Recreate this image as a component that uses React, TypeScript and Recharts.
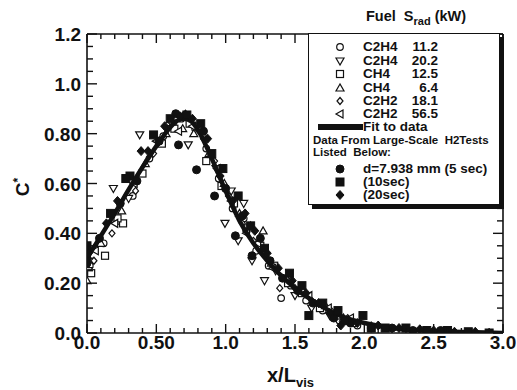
import { ScatterChart, Scatter, XAxis, YAxis } from "recharts";

// fit curve
const fitX = [0, 0.1, 0.2, 0.3, 0.4, 0.5, 0.6, 0.65, 0.7, 0.75, 0.8, 0.9, 1.0, 1.1, 1.2, 1.3, 1.4, 1.5, 1.6, 1.7, 1.8, 1.9, 2.0, 2.2, 2.5, 2.8, 3.0];
const fitY = [0.3, 0.39, 0.48, 0.575, 0.665, 0.75, 0.825, 0.852, 0.86, 0.85, 0.815, 0.7, 0.57, 0.45, 0.36, 0.29, 0.23, 0.18, 0.14, 0.105, 0.075, 0.055, 0.04, 0.02, 0.008, 0.003, 0.0];

// open symbols (fuel / Srad)
const c2h4a = [[0.02, 0.27], [0.12, 0.36], [0.22, 0.45], [0.33, 0.55], [0.45, 0.7], [0.55, 0.79], [0.62, 0.84], [0.68, 0.86], [0.78, 0.82], [0.86, 0.74], [0.95, 0.62], [1.05, 0.5], [1.13, 0.46], [1.22, 0.33], [1.31, 0.27], [1.4, 0.14], [1.47, 0.19], [1.58, 0.13], [1.7, 0.09], [1.82, 0.05], [1.95, 0.03]];
const c2h4b = [[0.01, 0.25], [0.19, 0.58], [0.38, 0.795], [0.3, 0.54], [0.58, 0.82], [0.73, 0.755], [0.8, 0.83], [0.93, 0.66], [0.995, 0.44], [1.04, 0.57], [1.13, 0.52], [1.09, 0.37], [1.19, 0.29], [1.28, 0.21], [1.36, 0.25], [1.5, 0.15], [1.62, 0.1], [1.75, 0.07]];
const ch4a = [[0.03, 0.24], [0.13, 0.31], [0.26, 0.44], [0.22, 0.46], [0.4, 0.64], [0.54, 0.76], [0.63, 0.82], [0.74, 0.84], [0.86, 0.69], [0.97, 0.59], [1.06, 0.52], [1.15, 0.42], [1.25, 0.35], [1.35, 0.27], [1.45, 0.2], [1.55, 0.16], [1.68, 0.1], [1.8, 0.07], [1.92, 0.04]];
const ch4b = [[0.0, 0.21], [0.1, 0.36], [0.25, 0.49], [0.42, 0.68], [0.57, 0.8], [0.69, 0.82], [0.77, 0.8], [0.88, 0.72], [0.99, 0.6], [1.1, 0.48], [1.18, 0.43], [1.27, 0.41], [1.33, 0.28], [1.44, 0.22], [1.56, 0.17], [1.72, 0.11], [1.85, 0.06]];
const c2h2a = [[0.05, 0.29], [0.18, 0.4], [0.35, 0.57], [0.48, 0.72], [0.6, 0.85], [0.71, 0.88], [0.84, 0.78], [0.92, 0.69], [1.02, 0.55], [1.12, 0.44], [1.2, 0.37], [1.3, 0.3], [1.39, 0.18], [1.5, 0.18], [1.62, 0.13], [1.76, 0.09], [1.88, 0.06], [2.05, 0.03]];
const c2h2b = [[0.06, 0.33], [0.2, 0.44], [0.34, 0.6], [0.5, 0.77], [0.66, 0.81], [0.76, 0.83], [0.83, 0.8], [0.94, 0.66], [1.04, 0.53], [1.15, 0.4], [1.23, 0.36], [1.34, 0.26], [1.46, 0.21], [1.6, 0.15], [1.74, 0.1], [1.9, 0.06]];

// filled symbols (large-scale H2 tests)
const h2s5 = [[0.0, 0.3], [0.0, 0.28], [0.09, 0.38], [0.24, 0.52], [0.36, 0.61], [0.52, 0.77], [0.66, 0.755], [0.64, 0.88], [0.7, 0.87], [0.79, 0.655], [0.84, 0.81], [0.92, 0.55], [1.0, 0.58], [1.07, 0.39], [1.12, 0.47], [1.19, 0.31], [1.25, 0.38], [1.32, 0.29], [1.41, 0.22], [1.52, 0.17], [1.63, 0.12], [1.78, 0.06], [1.9, 0.04], [2.05, 0.02], [2.2, 0.02], [2.35, 0.01], [2.55, 0.01]];
const h2s10 = [[0.0, 0.35], [0.0, 0.33], [0.17, 0.48], [0.31, 0.63], [0.28, 0.62], [0.48, 0.795], [0.6, 0.86], [0.72, 0.875], [0.82, 0.84], [0.9, 0.72], [0.98, 0.66], [1.09, 0.55], [1.18, 0.43], [1.28, 0.34], [1.46, 0.24], [1.55, 0.19], [1.6, 0.07], [1.7, 0.12], [1.81, 0.09], [1.86, 0.05], [1.99, 0.07], [2.05, 0.02], [2.15, 0.02], [2.3, 0.02], [2.45, 0.01], [2.6, 0.01], [2.75, 0.005], [2.9, 0.0]];
const h2s20 = [[0.01, 0.32], [0.14, 0.44], [0.22, 0.53], [0.39, 0.73], [0.44, 0.73], [0.56, 0.83], [0.67, 0.87], [0.76, 0.86], [0.87, 0.78], [0.96, 0.63], [1.05, 0.53], [1.14, 0.48], [1.21, 0.41], [1.3, 0.32], [1.38, 0.26], [1.48, 0.21], [1.58, 0.16], [1.67, 0.12], [1.75, 0.08], [1.83, 0.03], [1.95, 0.04], [2.1, 0.03], [2.25, 0.02], [2.4, 0.015], [2.5, 0.01], [2.65, 0.005], [2.8, 0.005]];

const xTicks = [0, 0.1, 0.2, 0.3, 0.4, 0.5, 0.6, 0.7, 0.8, 0.9, 1, 1.1, 1.2, 1.3, 1.4, 1.5, 1.6, 1.7, 1.8, 1.9, 2, 2.1, 2.2, 2.3, 2.4, 2.5, 2.6, 2.7, 2.8, 2.9, 3];
const xMajor = [0, 0.5, 1, 1.5, 2, 2.5, 3];
const xLabels = ["0.0", "0.50", "1.0", "1.5", "2.0", "2.5", "3.0"];
const yTicks = [0, 0.05, 0.1, 0.15, 0.2, 0.25, 0.3, 0.35, 0.4, 0.45, 0.5, 0.55, 0.6, 0.65, 0.7, 0.75, 0.8, 0.85, 0.9, 0.95, 1, 1.05, 1.1, 1.15, 1.2];
const yMajor = [0, 0.2, 0.4, 0.6, 0.8, 1, 1.2];
const yLabels = ["0.0", "0.20", "0.40", "0.60", "0.80", "1.0", "1.2"];

const legendFuels = ["C2H4", "C2H4", "CH4", "CH4", "C2H2", "C2H2"];
const legendSrad = ["11.2", "20.2", "12.5", "6.4", "18.1", "56.5"];
const legendShapes = ["circle", "down", "square", "up", "diamond", "left"];
const h2Labels = ["d=7.938 mm (5 sec)", "(10sec)", "(20sec)"];
const h2Shapes = ["fcircle", "fsquare", "fdiamond"];

const toPts = (arr: number[][]) => arr.map(([x, y]) => ({ x, y }));
const fitData = fitX.map((x, i) => ({ x, y: fitY[i] }));

const FONT = "'Liberation Sans', Arial, Helvetica, sans-serif";
const INK = "#111";

const glyph = (kind: string, cx: number, cy: number) => {
  const open = { fill: "#fff", stroke: INK, strokeWidth: 1.2 };
  const solid = { fill: INK, stroke: INK, strokeWidth: 1 };
  switch (kind) {
    case "circle":
      return <circle cx={cx} cy={cy} r={3.3} {...open} />;
    case "square":
      return <rect x={cx - 3.5} y={cy - 3.5} width={7} height={7} {...open} />;
    case "up":
      return <polygon points={`${cx},${cy - 4} ${cx - 4},${cy + 3} ${cx + 4},${cy + 3}`} {...open} />;
    case "down":
      return <polygon points={`${cx},${cy + 4} ${cx - 4},${cy - 3} ${cx + 4},${cy - 3}`} {...open} />;
    case "left":
      return <polygon points={`${cx - 4},${cy} ${cx + 3},${cy - 4} ${cx + 3},${cy + 4}`} {...open} />;
    case "diamond":
      return <polygon points={`${cx},${cy - 3.5} ${cx + 3},${cy} ${cx},${cy + 3.5} ${cx - 3},${cy}`} {...open} />;
    case "fcircle":
      return <circle cx={cx} cy={cy} r={4} {...solid} />;
    case "fsquare":
      return <rect x={cx - 4} y={cy - 4} width={8} height={8} {...solid} />;
    case "fdiamond":
      return <polygon points={`${cx},${cy - 4.5} ${cx + 4},${cy} ${cx},${cy + 4.5} ${cx - 4},${cy}`} {...solid} />;
  }
  return <g />;
};

const shapeOf = (kind: string) => (p: any) => glyph(kind, p.cx, p.cy);
const noShape = () => <g />;

const majorIndex = (list: number[], v: number) => list.findIndex((m) => Math.abs(m - v) < 1e-6);

const BottomTick = (p: any) => {
  const i = majorIndex(xMajor, p.payload.value);
  return (
    <g>
      <line x1={p.x} y1={p.y} x2={p.x} y2={p.y - (i >= 0 ? 9 : 5)} stroke={INK} strokeWidth={1.4} />
      {i >= 0 && (
        <text x={p.x} y={p.y + 16} textAnchor="middle" fontSize={19} fontWeight="bold" fill={INK} fontFamily={FONT}>
          {xLabels[i]}
        </text>
      )}
    </g>
  );
};

const TopTick = (p: any) => {
  const i = majorIndex(xMajor, p.payload.value);
  return <line x1={p.x} y1={p.y} x2={p.x} y2={p.y + (i >= 0 ? 9 : 5)} stroke={INK} strokeWidth={1.4} />;
};

const LeftTick = (p: any) => {
  const i = majorIndex(yMajor, p.payload.value);
  return (
    <g>
      <line x1={p.x} y1={p.y} x2={p.x + (i >= 0 ? 10 : 6)} y2={p.y} stroke={INK} strokeWidth={1.4} />
      {i >= 0 && (
        <text x={p.x - 6} y={p.y + 7} textAnchor="end" fontSize={19} fontWeight="bold" fill={INK} fontFamily={FONT}>
          {yLabels[i]}
        </text>
      )}
    </g>
  );
};

const RightTick = (p: any) => {
  const i = majorIndex(yMajor, p.payload.value);
  return <line x1={p.x} y1={p.y} x2={p.x - (i >= 0 ? 10 : 6)} y2={p.y} stroke={INK} strokeWidth={1.4} />;
};

const LegendSymbol = ({ kind }: { kind: string }) => (
  <svg width={12} height={12} style={{ position: "absolute", left: -6, top: -6 }}>
    {glyph(kind, 6, 6)}
  </svg>
);

export default function App() {
  const rowY = [47, 61, 74, 88, 101, 114];
  const h2Y = [169, 182, 195];
  const txt: React.CSSProperties = { position: "absolute", fontSize: 13.5, fontWeight: "bold", color: INK, lineHeight: "12px", whiteSpace: "nowrap" };
  const axisProps = { axisLine: { stroke: INK, strokeWidth: 1.6 }, tickLine: false, tickSize: 0, tickMargin: 0, interval: 0 as const };

  return (
    <div style={{ position: "absolute", left: 0, top: 0, width: 517, height: 390, background: "#fff", fontFamily: FONT }}>
      <ScatterChart width={517} height={390} margin={{ top: 33, right: 13, bottom: 27, left: 27 }}>
        <XAxis xAxisId="b" type="number" dataKey="x" domain={[0, 3]} ticks={xTicks} allowDataOverflow height={30} tick={BottomTick} {...axisProps} />
        <XAxis xAxisId="t" orientation="top" type="number" dataKey="x" domain={[0, 3]} ticks={xTicks} allowDataOverflow height={1} tick={TopTick} {...axisProps} />
        <YAxis yAxisId="l" type="number" dataKey="y" domain={[0, 1.2]} ticks={yTicks} allowDataOverflow width={60} tick={LeftTick} {...axisProps} />
        <YAxis yAxisId="r" orientation="right" type="number" dataKey="y" domain={[0, 1.2]} ticks={yTicks} allowDataOverflow width={1} tick={RightTick} {...axisProps} />

        <Scatter xAxisId="b" yAxisId="l" data={toPts(c2h4a)} shape={shapeOf("circle")} isAnimationActive={false} />
        <Scatter xAxisId="b" yAxisId="l" data={toPts(c2h4b)} shape={shapeOf("down")} isAnimationActive={false} />
        <Scatter xAxisId="b" yAxisId="l" data={toPts(ch4a)} shape={shapeOf("square")} isAnimationActive={false} />
        <Scatter xAxisId="b" yAxisId="l" data={toPts(ch4b)} shape={shapeOf("up")} isAnimationActive={false} />
        <Scatter xAxisId="b" yAxisId="l" data={toPts(c2h2a)} shape={shapeOf("diamond")} isAnimationActive={false} />
        <Scatter xAxisId="b" yAxisId="l" data={toPts(c2h2b)} shape={shapeOf("left")} isAnimationActive={false} />
        <Scatter xAxisId="b" yAxisId="l" data={fitData} shape={noShape} line={{ stroke: INK, strokeWidth: 4.5 }} lineJointType="monotoneX" isAnimationActive={false} />
        <Scatter xAxisId="b" yAxisId="l" data={toPts(h2s5)} shape={shapeOf("fcircle")} isAnimationActive={false} />
        <Scatter xAxisId="b" yAxisId="l" data={toPts(h2s10)} shape={shapeOf("fsquare")} isAnimationActive={false} />
        <Scatter xAxisId="b" yAxisId="l" data={toPts(h2s20)} shape={shapeOf("fdiamond")} isAnimationActive={false} />
      </ScatterChart>

      {/* axis titles */}
      <div style={{ position: "absolute", left: 2, top: 175, width: 32, height: 24, transform: "rotate(-90deg)", fontSize: 19, fontWeight: "bold", color: INK, textAlign: "center", lineHeight: "24px" }}>
        C<sup style={{ fontSize: 12 }}>*</sup>
      </div>
      <div style={{ position: "absolute", left: 267, top: 364, fontSize: 20, fontWeight: "bold", color: INK, whiteSpace: "nowrap" }}>
        x/L<sub style={{ fontSize: 13 }}>vis</sub>
      </div>

      {/* legend title */}
      <div style={{ ...txt, left: 366, top: 8, fontSize: 14.5, lineHeight: "16px" }}>
        Fuel&nbsp; S<sub style={{ fontSize: 11 }}>rad</sub> (kW)
      </div>

      {/* legend box */}
      <div style={{ position: "absolute", left: 308, top: 33, width: 190, height: 170, background: "#fff", border: `1.5px solid ${INK}`, boxShadow: `4px 4px 0 ${INK}` }} />
      {legendFuels.map((f, i) => (
        <div key={i}>
          <div style={{ position: "absolute", left: 340, top: rowY[i] }}>
            <LegendSymbol kind={legendShapes[i]} />
          </div>
          <div style={{ ...txt, left: 363, top: rowY[i] - 6 }}>{f}</div>
          <div style={{ ...txt, left: 397, width: 41, textAlign: "right", top: rowY[i] - 6 }}>{legendSrad[i]}</div>
        </div>
      ))}
      <div style={{ position: "absolute", left: 318, top: 124, width: 45, height: 6, background: INK }} />
      <div style={{ ...txt, left: 363, top: 121 }}>Fit to data</div>
      <div style={{ ...txt, left: 313, top: 134, fontSize: 11.5 }}>Data From Large-Scale &nbsp;H2Tests</div>
      <div style={{ ...txt, left: 313, top: 146, fontSize: 11.5 }}>Listed &nbsp;Below:</div>
      {h2Labels.map((t, i) => (
        <div key={t}>
          <div style={{ position: "absolute", left: 340, top: h2Y[i] }}>
            <LegendSymbol kind={h2Shapes[i]} />
          </div>
          <div style={{ ...txt, left: 363, top: h2Y[i] - 6 }}>{t}</div>
        </div>
      ))}
    </div>
  );
}
